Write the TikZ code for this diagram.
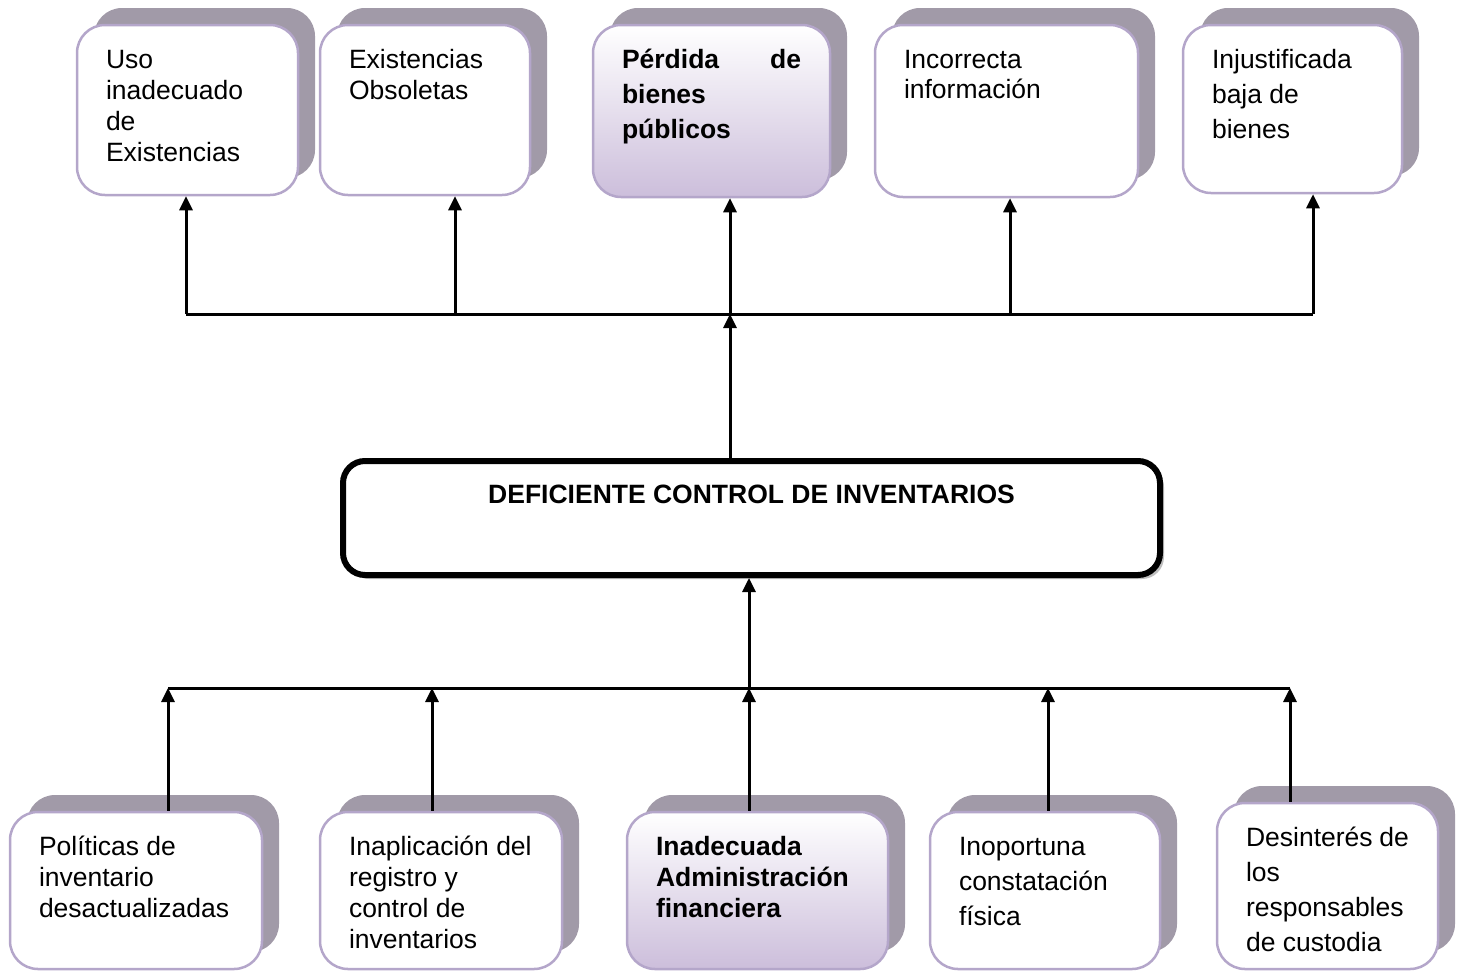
\documentclass[tikz,border=0pt]{standalone}
\usepackage{fontspec}
\setmainfont{Liberation Sans}
\usepackage{tikz}
\usetikzlibrary{arrows.meta}
\usetikzlibrary{shadows}

\definecolor{shadowgray}{HTML}{A19AA8}
\definecolor{boxline}{HTML}{B4A6CA}
\definecolor{lilac}{HTML}{CCBEDB}

% text block at the top left of a box: width, height, lines
\newcommand{\boxtext}[3]{\parbox[c][#2][t]{#1}{\raggedright\rule{0pt}{22pt}#3}}

\begin{document}
\begin{tikzpicture}[x=1pt, y=-1pt,
                font=\fontsize{26.5}{31}\selectfont,
                block/.style={rectangle, rounded corners=28pt, draw=boxline, line width=2.5pt, fill=white, inner sep=0pt,
                    general shadow={shadow xshift=17pt, shadow yshift=17pt, fill=shadowgray}},
                keyblock/.style={block, top color=white, bottom color=lilac, font=\fontsize{26.5}{35}\selectfont\bfseries},
                wide/.style={font=\fontsize{26.5}{35}\selectfont},
                problem/.style={rectangle, rounded corners=22pt, draw=black, line width=6pt, fill=white, inner sep=0pt,
                    general shadow={shadow xshift=4pt, shadow yshift=-4pt, fill=black!25}},
                arrow/.style={draw, line width=3pt, -{Triangle[width=13pt,length=14pt]}},
                bar/.style={draw, line width=3pt}
            ]
            \useasboundingbox (0,0) rectangle (1464,972);

            % central problem
            \node[problem, minimum width=817pt, minimum height=114pt](main) at (751.5,518)
                {\parbox[c][74pt][t]{760pt}{\centering\bfseries\rule{0pt}{22pt}DEFICIENTE CONTROL DE INVENTARIOS}};

            % effects
            \node[block, minimum width=221pt, minimum height=170pt](uso) at (187.5,110)
                {\boxtext{163pt}{128pt}{Uso\\inadecuado\\de\\Existencias}};
            \node[block, minimum width=210pt, minimum height=170pt](obs) at (425,110)
                {\boxtext{152pt}{128pt}{Existencias\\Obsoletas}};
            \node[keyblock, minimum width=237pt, minimum height=172pt](perd) at (711.5,111)
                {\boxtext{179pt}{130pt}{Pérdida\hskip0pt plus1fill de\\bienes\\públicos}};
            \node[block, minimum width=263pt, minimum height=172pt, font=\fontsize{26.5}{30}\selectfont](info) at (1006.5,111)
                {\boxtext{205pt}{130pt}{Incorrecta\\información}};
            \node[block, wide, minimum width=219pt, minimum height=168pt](baja) at (1292.5,109)
                {\boxtext{161pt}{126pt}{Injustificada\\baja de\\bienes}};

            % causes
            \node[block, minimum width=252pt, minimum height=157pt](pol) at (136,890.5)
                {\boxtext{194pt}{115pt}{Políticas de\\inventario\\desactualizadas}};
            \node[block, minimum width=242pt, minimum height=157pt](reg) at (441,890.5)
                {\boxtext{184pt}{115pt}{Inaplicación del\\registro y\\control de\\inventarios}};
            \node[keyblock, minimum width=261pt, minimum height=157pt, font=\fontsize{26.5}{31}\selectfont\bfseries](adm) at (757.5,890.5)
                {\boxtext{203pt}{115pt}{Inadecuada\\Administración\\financiera}};
            \node[block, wide, minimum width=230pt, minimum height=157pt](fis) at (1045,890.5)
                {\boxtext{172pt}{115pt}{Inoportuna\\constatación\\física}};
            \node[block, wide, minimum width=221pt, minimum height=166pt](cust) at (1327.5,886)
                {\boxtext{163pt}{124pt}{Desinterés de\\los\\responsables\\de custodia}};

            % upper branch
            \coordinate (t1) at (186,314);
            \coordinate (t2) at (455,314);
            \coordinate (t3) at (730,314);
            \coordinate (t4) at (1010,314);
            \coordinate (t5) at (1313,314);
            \path[bar] (t1) -- (t5);
            \path[arrow] (t1) -- (t1 |- uso.south);
            \path[arrow] (t2) -- (t2 |- obs.south);
            \path[arrow] (t3) -- (t3 |- perd.south);
            \path[arrow] (t4) -- (t4 |- info.south);
            \path[arrow] (t5) -- (t5 |- baja.south);
            \path[arrow] (main.north -| t3) -- (t3);

            % lower branch
            \coordinate (b1) at (168,688);
            \coordinate (b2) at (432,688);
            \coordinate (b3) at (749,688);
            \coordinate (b4) at (1048,688);
            \coordinate (b5) at (1290,688);
            \path[bar] (b1) -- (b5);
            \path[arrow] (b1 |- pol.north) -- (b1);
            \path[arrow] (b2 |- reg.north) -- (b2);
            \path[arrow] (b3 |- adm.north) -- (b3);
            \path[arrow] (b4 |- fis.north) -- (b4);
            \path[arrow] (b5 |- cust.north) -- (b5);
            \path[arrow] (b3) -- (b3 |- main.south);
        \end{tikzpicture}
\end{document}
